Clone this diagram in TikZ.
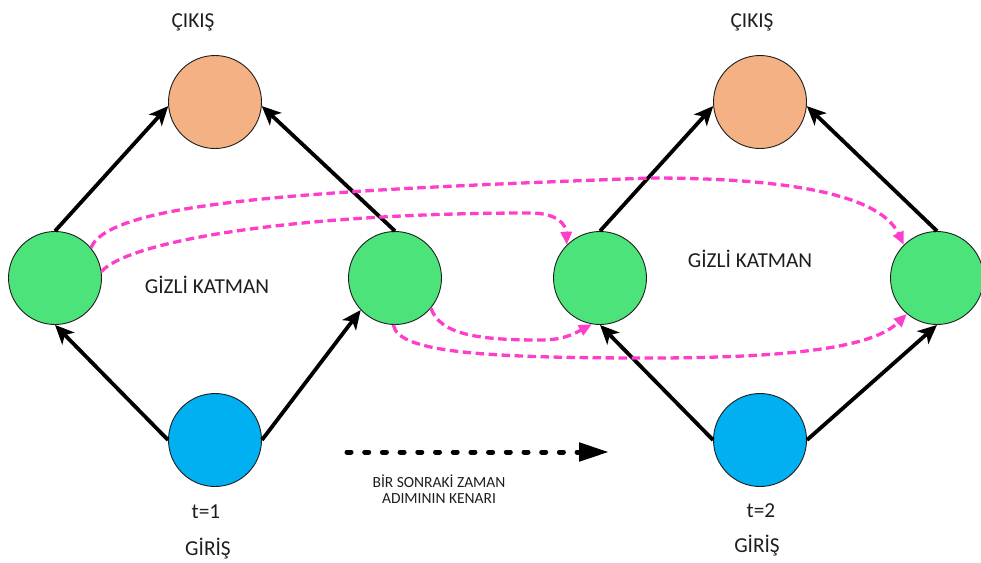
\documentclass[tikz,border=0pt]{standalone}
\usepackage{fontspec}
\setmainfont{Carlito}
\usetikzlibrary{arrows.meta}

\definecolor{outfill}{HTML}{F4B183}
\definecolor{hidfill}{HTML}{4CE47A}
\definecolor{infill}{HTML}{00B0F0}
\definecolor{recur}{HTML}{FF3DCB}
\definecolor{ink}{HTML}{1E1E1E}

\begin{document}
\begin{tikzpicture}[x=1pt,y=-1pt,
  unit/.style={circle, draw=ink, line width=0.9pt, minimum size=93pt, inner sep=0pt},
  outunit/.style={unit, fill=outfill},
  hidunit/.style={unit, fill=hidfill},
  inunit/.style={unit, fill=infill},
  feed/.style={line width=3.8pt, -{Stealth[length=19pt,width=17pt,inset=5pt]}},
  recurrent/.style={draw=recur, line width=3.3pt, dash pattern=on 8.5pt off 4.5pt,
    -{Triangle[length=13pt,width=11pt,fill=recur]}},
  nextstep/.style={line width=5pt, line cap=round, dash pattern=on 4pt off 13.7pt,
    -{Triangle[length=30pt,width=18pt]}},
  lbl/.style={font=\fontsize{21.3}{25}\selectfont, text=ink, anchor=base, inner sep=0pt},
  small/.style={font=\fontsize{15.5}{18}\selectfont, text=ink, anchor=base, inner sep=0pt}
]
\useasboundingbox (0,0) rectangle (981,562);
\fill[white] (0,0) rectangle (981,562);

% time step t=1
\node[outunit] (o1) at (215,102) {};
\node[hidunit] (h1) at (55,278) {};
\node[hidunit] (h2) at (395,278) {};
\node[inunit]  (i1) at (215,440) {};

% time step t=2
\node[outunit] (o2) at (760,102) {};
\node[hidunit] (h3) at (600,278) {};
\node[hidunit] (h4) at (937,278) {};
\node[inunit]  (i2) at (760,440) {};

% feed-forward connections
\draw[feed] (h1.north) -- (o1.185);
\draw[feed] (h2.north) -- (o1.355);
\draw[feed] (i1.west)  -- (h1.south);
\draw[feed] (i1.east)  -- (h2.223);
\draw[feed] (h3.north) -- (o2.185);
\draw[feed] (h4.north) -- (o2.355);
\draw[feed] (i2.west)  -- (h3.south);
\draw[feed] (i2.east)  -- (h4.south);

% recurrent connections into the next time step
\draw[recurrent] (h1.40) .. controls (110,200) and (330,190) .. (650,178)
                 .. controls (790,178) and (880,195) .. (h4.135);
\draw[recurrent] (h1.8) .. controls (130,240) and (300,213) .. (530,213)
                 .. controls (558,213) and (566,225) .. (h3.135);
\draw[recurrent] (h2.-40) .. controls (440,335) and (480,340) .. (540,340)
                 .. controls (560,340) and (570,336) .. (h3.-100);
\draw[recurrent] (h2.-92) .. controls (398,352) and (480,358) .. (650,358)
                 .. controls (830,358) and (880,340) .. (h4.-130);

% time direction
\coordinate (ns) at (347,452);
\coordinate (ne) at (609,452);
\draw[nextstep] (ns) -- (ne);

% labels
\node[lbl] (c1) at (193,27) {ÇIKIŞ};
\node[lbl] (c2) at (752,27) {ÇIKIŞ};
\node[lbl] (g1) at (207,293) {GİZLİ KATMAN};
\node[lbl] (g2) at (750,267) {GİZLİ KATMAN};
\node[lbl] (t1) at (206,518) {t=1};
\node[lbl] (t2) at (761,517) {t=2};
\node[lbl] (r1) at (208,555) {GİRİŞ};
\node[lbl] (r2) at (757,552) {GİRİŞ};
\node[small] (n1) at (439,487) {BİR SONRAKİ ZAMAN};
\node[small] (n2) at (439,503) {ADIMININ KENARI};
\end{tikzpicture}
\end{document}
